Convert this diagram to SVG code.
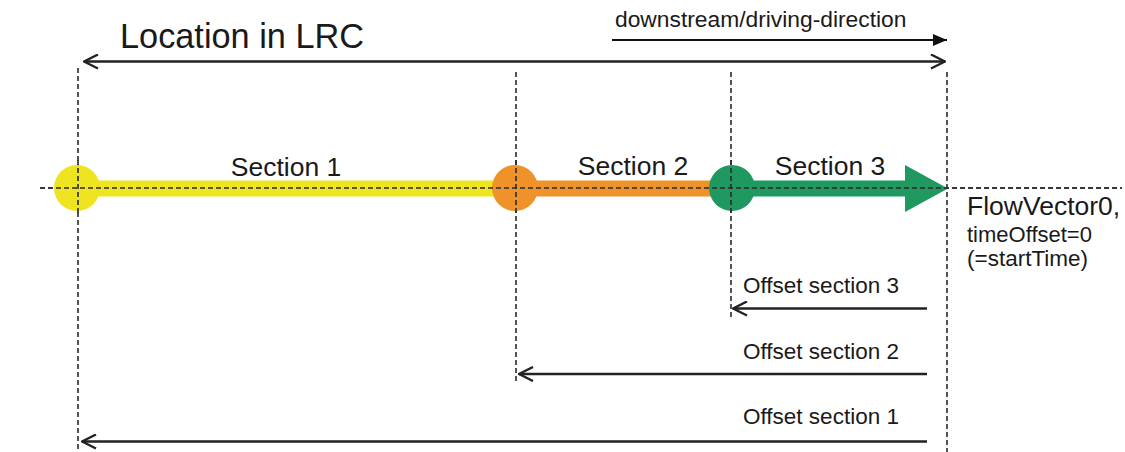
<svg xmlns="http://www.w3.org/2000/svg" width="1125" height="452" viewBox="0 0 1125 452">
<style>
text{font-family:"Liberation Sans",Arial,sans-serif;fill:#1a1a1a}
.guide{stroke:#2a2a2a;stroke-width:1.6;stroke-dasharray:5 3;fill:none}
.arr{stroke:#222;stroke-width:2.4;fill:none}
.sec{font-size:26.5px;text-anchor:middle}
.off{font-size:22.5px}
</style>
<defs>
<marker id="open" viewBox="0 0 16 16" refX="15" refY="8" markerWidth="16" markerHeight="16" markerUnits="userSpaceOnUse" orient="auto-start-reverse">
<path d="M1,1 L15,8 L1,15" fill="none" stroke="#222" stroke-width="2.4"/>
</marker>
<marker id="solid" viewBox="0 0 14 12" refX="14" refY="6" markerWidth="14" markerHeight="12" markerUnits="userSpaceOnUse" orient="auto">
<path d="M0,0 L14,6 L0,12 Z" fill="#111"/>
</marker>
</defs>
<rect width="1125" height="452" fill="#fff"/>
<g id="guides">
<line class="guide" x1="40" y1="188" x2="1122" y2="188"/>
<line class="guide" x1="78" y1="68" x2="78" y2="452"/>
<line class="guide" x1="516" y1="72" x2="516" y2="384"/>
<line class="guide" x1="731" y1="72" x2="731" y2="318"/>
<line class="guide" x1="947" y1="72" x2="947" y2="452"/>
</g>
<g id="section1">
<rect x="78" y="180.5" width="438" height="16" fill="#eee41f"/>
<circle cx="77" cy="188" r="23" fill="#eee41f"/>
<text class="sec" x="286" y="176">Section 1</text>
</g>
<g id="section2">
<rect x="516" y="180.5" width="215" height="16" fill="#ef9229"/>
<circle cx="515" cy="188" r="23" fill="#ef9229"/>
<text class="sec" x="633" y="175">Section 2</text>
</g>
<g id="section3">
<rect x="731" y="180.5" width="176" height="16" fill="#1f9960"/>
<path d="M905,165 L948,188.5 L905,212 Z" fill="#1f9960"/>
<circle cx="732" cy="188" r="23" fill="#1f9960"/>
<text class="sec" x="830" y="175">Section 3</text>
</g>
<g id="guides-over">
<line class="guide" x1="40" y1="188" x2="1122" y2="188"/>
<line class="guide" x1="78" y1="160" x2="78" y2="216"/>
<line class="guide" x1="516" y1="160" x2="516" y2="216"/>
<line class="guide" x1="731" y1="160" x2="731" y2="216"/>
</g>
<g id="connectors">
<line class="arr" x1="84" y1="61.5" x2="945" y2="61.5" marker-start="url(#open)" marker-end="url(#open)"/>
<line x1="612" y1="40" x2="947" y2="40" stroke="#111" stroke-width="2" marker-end="url(#solid)"/>
<line class="arr" x1="927" y1="308.5" x2="733" y2="308.5" marker-end="url(#open)"/>
<line class="arr" x1="927" y1="374" x2="519" y2="374" marker-end="url(#open)"/>
<line class="arr" x1="927" y1="441.5" x2="82" y2="441.5" marker-end="url(#open)"/>
</g>
<g id="labels">
<text x="120" y="48" font-size="34.3">Location in LRC</text>
<text x="615" y="27" font-size="22.8">downstream/driving-direction</text>
<text x="967" y="215" font-size="26.5">FlowVector0,</text>
<text x="967" y="242" font-size="22">timeOffset=0</text>
<text x="967" y="266" font-size="22.5">(=startTime)</text>
<text class="off" x="743" y="293">Offset section 3</text>
<text class="off" x="743" y="359">Offset section 2</text>
<text class="off" x="743" y="424">Offset section 1</text>
</g>
</svg>
